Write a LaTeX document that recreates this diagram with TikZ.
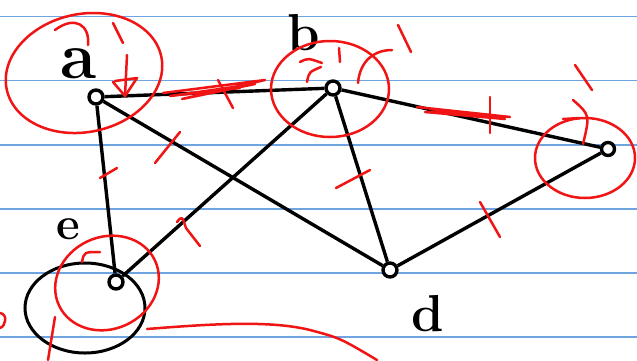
\documentclass[tikz,border=0pt]{standalone}
\usepackage{tikz}
\usetikzlibrary{positioning, calc}
\definecolor{rulecol}{RGB}{110,165,225}
\definecolor{penred}{RGB}{240,20,20}
\tikzset{
	vert/.style={circle, draw=black, fill=white, line width=3.4pt, minimum size=14pt, inner sep=0pt},
	edgeline/.style={line width=3.4pt, draw=black},
	redmark/.style={draw=penred, line width=2.5pt, line cap=round, line join=round},
	ruleline/.style={draw=rulecol, line width=1.2pt},
	handlabel/.style={inner sep=0pt, text=black}
}
\begin{document}
\begin{tikzpicture}[x=1pt, y=-1pt]
	\useasboundingbox (0,0) rectangle (637,360);
	\fill[white] (0,0) rectangle (637,360);
	% ruled paper
	\foreach \y in {16.5,80.7,145,209,273,337}
		\draw[ruleline] (0,\y) -- (637,\y);
	% vertices
	\node[vert] (a) at (96,97) {};
	\node[vert] (b) at (333,88) {};
	\node[vert, minimum size=13pt] (c) at (608,149) {};
	\node[vert] (d) at (390,270) {};
	\node[vert] (e) at (116,282) {};
	\foreach \p/\q in {a/b, a/e, a/d, b/e, b/d, b/c, d/c}
		\draw[edgeline] (\p) -- (\q);
	% letters
	\node[handlabel, font=\fontsize{66}{66}\selectfont\bfseries] (la) at (79,64) {a};
	\node[handlabel, font=\fontsize{52}{52}\selectfont\bfseries] (lb) at (304,33) {b};
	\node[handlabel, font=\fontsize{52}{52}\selectfont\bfseries] (ld) at (428,314) {d};
	\node[handlabel, font=\fontsize{46}{46}\selectfont\bfseries] (le) at (68,229) {e};
	% black loop round e
	\draw[line width=3pt] (85,308) ellipse [x radius=60, y radius=45];
	% red circles
	\draw[redmark] (84,73) [rotate around={12:(84,73)}] ellipse [x radius=79, y radius=59];
	\draw[redmark] (330,89) ellipse [x radius=59, y radius=48];
	\draw[redmark] (585,158) ellipse [x radius=50, y radius=40];
	\draw[redmark] (107,283) [rotate around={25:(107,283)}] ellipse [x radius=53, y radius=46];
	% ticks on edges
	\draw[redmark] (100,178) -- (117,168);
	\draw[redmark] (155,163) -- (180,132);
	\draw[redmark] (177,222) .. controls (182,216) .. (186,228) -- (200,246);
	\draw[redmark] (336,188) -- (370,170);
	\draw[redmark] (480,202) -- (500,237);
	\draw[redmark] (490,97) -- (490,133);
	\draw[redmark] (218,80) -- (233,108);
	% scribbles on a-b and b-c
	\draw[redmark] (163,93) -- (265,80) -- (182,99) -- (255,84) -- (170,96) -- (240,88);
	\draw[redmark] (417,107) -- (510,117) -- (430,109) -- (505,119) -- (425,112) -- (480,115);
	% strokes near a
	\draw[redmark] (113,23) -- (123,43);
	\draw[redmark] (127,55) -- (125,96);
	\draw[redmark] (113,82) -- (125,96) -- (137,78) -- (115,81);
	\draw[redmark] (55,30) .. controls (75,15) and (90,25) .. (88,45);
	% strokes near b
	\draw[redmark] (398,25) -- (411,52);
	\draw[redmark] (339,48) -- (340,62);
	\draw[redmark] (307,82) .. controls (309,72) .. (321,67);
	\draw[redmark] (300,62) .. controls (308,58) .. (322,63);
	\draw[redmark] (358,83) .. controls (360,60) and (375,50) .. (392,50);
	% strokes near c
	\draw[redmark] (575,65) -- (592,90);
	\draw[redmark] (573,100) .. controls (590,115) .. (583,144);
	\draw[redmark] (563,119) -- (580,118);
	% strokes near e
	\draw[redmark] (82,262) .. controls (84,252) .. (100,252);
	\draw[redmark] (55,317) -- (48,360);
	\draw[redmark] (0,313) .. controls (8,314) and (6,326) .. (0,328);
	\draw[redmark] (147,329) .. controls (210,324) and (270,320) .. (310,330) .. controls (340,338) .. (377,360);
\end{tikzpicture}
\end{document}
